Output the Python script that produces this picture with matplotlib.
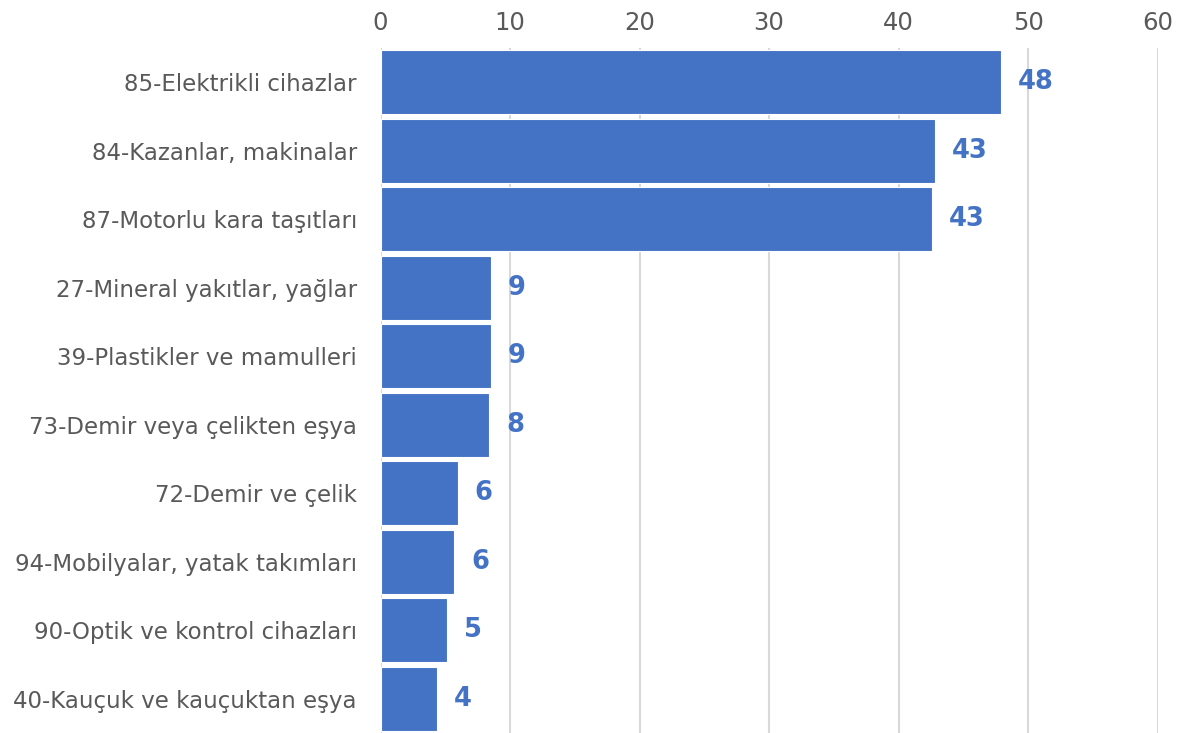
import matplotlib
matplotlib.use("Agg")
import matplotlib.pyplot as plt

categories = [
    "85-Elektrikli cihazlar",
    "84-Kazanlar, makinalar",
    "87-Motorlu kara taşıtları",
    "27-Mineral yakıtlar, yağlar",
    "39-Plastikler ve mamulleri",
    "73-Demir veya çelikten eşya",
    "72-Demir ve çelik",
    "94-Mobilyalar, yatak takımları",
    "90-Optik ve kontrol cihazları",
    "40-Kauçuk ve kauçuktan eşya",
]
values = [47.9, 42.8, 42.6, 8.56, 8.53, 8.4, 5.96, 5.7, 5.14, 4.39]
xticks = [0, 10, 20, 30, 40, 50, 60]

plt.rcParams['font.family'] = ['DejaVu Sans']

fig = plt.figure(figsize=(11.79, 7.33), dpi=100)
ax = fig.add_axes([380.5/1179, 0, (1157.7-380.5)/1179, 1-48/733])

bar_color = "#4472C4"
y = list(range(len(categories)))
ax.barh(y, values, height=0.94, color=bar_color, edgecolor="white", linewidth=0.8, zorder=3)
ax.set_ylim(len(categories)-0.5, -0.5)
ax.set_xlim(0, 60)
ax.set_xticks(xticks)
ax.xaxis.tick_top()
ax.tick_params(axis='x', length=0, pad=9, labelsize=17.5, labelcolor="#595959")
ax.tick_params(axis='y', length=0, pad=17, labelsize=16.5, labelcolor="#595959")
ax.set_yticks(y)
ax.set_yticklabels(categories)
ax.grid(axis='x', color="#d9d9d9", linewidth=1.5, zorder=0)
for s in ax.spines.values():
    s.set_visible(False)

for yi, v in zip(y, values):
    ax.annotate(f"{v:.0f}", xy=(v, yi), xytext=(12, 0), textcoords="offset points",
                va="center", ha="left", fontsize=18.5, fontweight="bold", color=bar_color)

fig.savefig("out.png", dpi=100)
